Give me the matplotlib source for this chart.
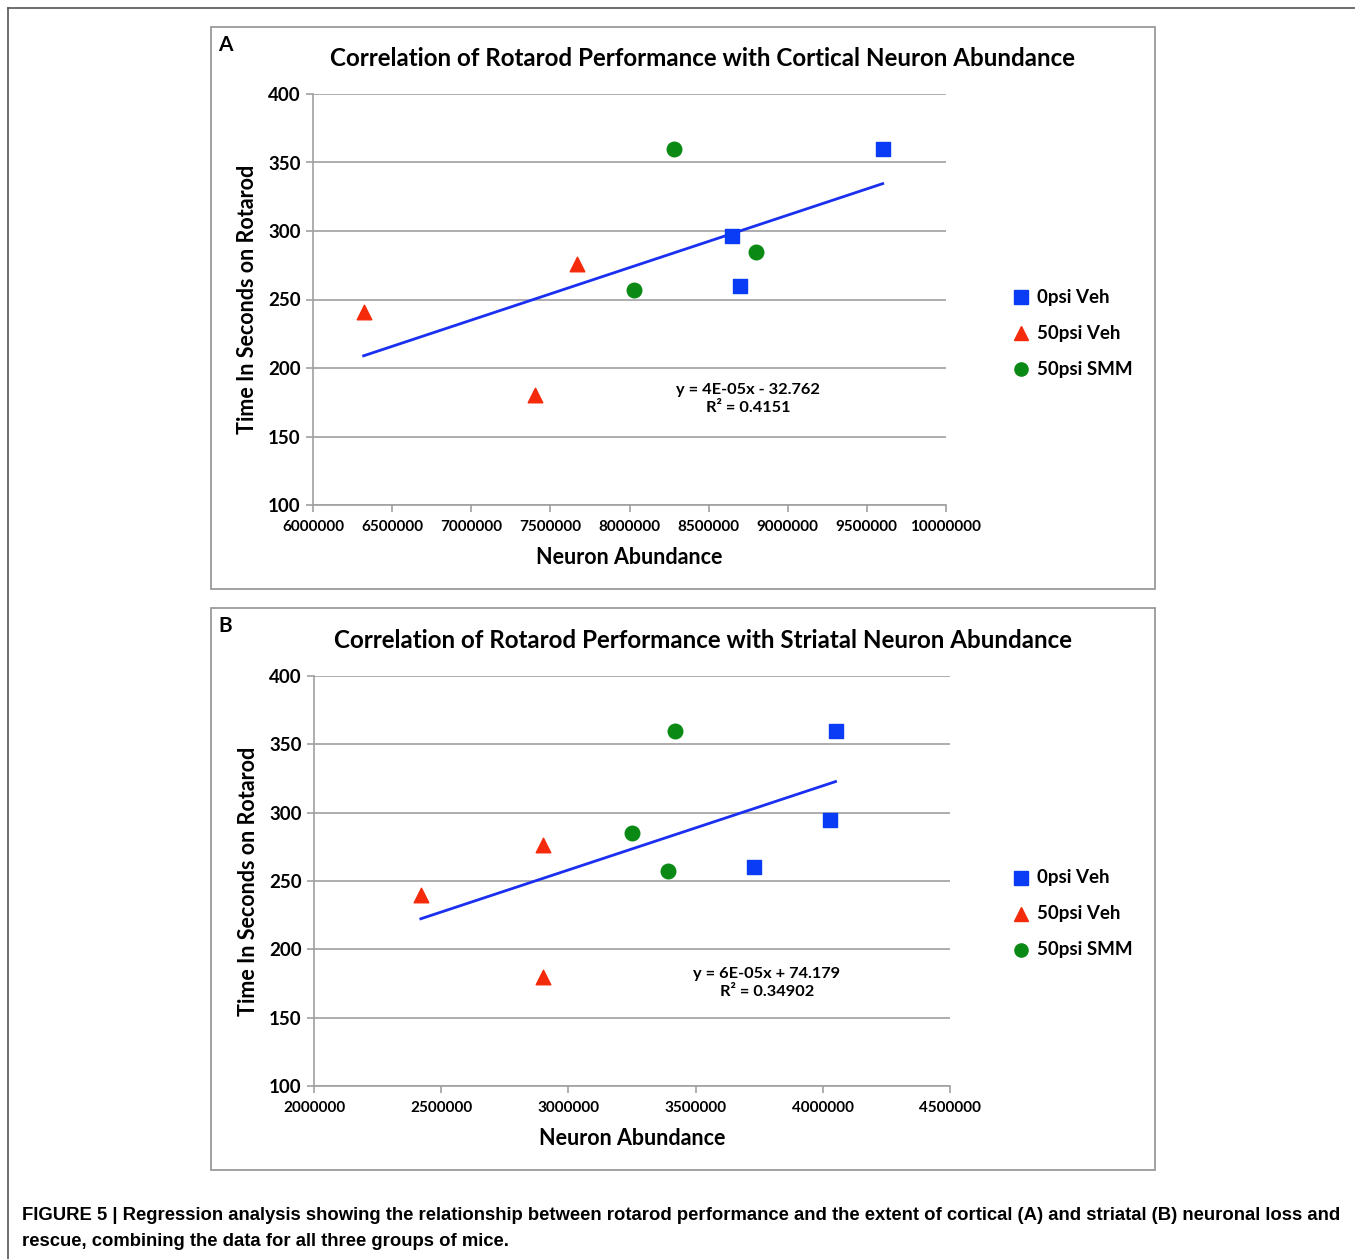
import numpy as np
import matplotlib
matplotlib.use("Agg")
import matplotlib.pyplot as plt
from matplotlib.patches import Rectangle
from matplotlib.lines import Line2D

# ---- data ----
groups = ["0psi Veh", "50psi Veh", "50psi SMM"]

# Panel A: cortical neuron abundance
a_veh0_x = [9600000, 8650000, 8700000]
a_veh0_y = [360, 296, 260]
a_veh50_x = [6320000, 7400000, 7670000]
a_veh50_y = [241, 180, 276]
a_smm_x = [8280000, 8800000, 8030000]
a_smm_y = [360, 285, 257]
a_eq = "y = 4E-05x - 32.762\nR² = 0.4151"
a_title = "Correlation of Rotarod Performance with Cortical Neuron Abundance"
a_xticks = [6000000, 6500000, 7000000, 7500000, 8000000, 8500000, 9000000, 9500000, 10000000]

# Panel B: striatal neuron abundance
b_veh0_x = [4050000, 4030000, 3730000]
b_veh0_y = [360, 295, 260]
b_veh50_x = [2420000, 2900000, 2900000]
b_veh50_y = [240, 276, 180]
b_smm_x = [3420000, 3250000, 3390000]
b_smm_y = [360, 285, 257]
b_eq = "y = 6E-05x + 74.179\nR² = 0.34902"
b_title = "Correlation of Rotarod Performance with Striatal Neuron Abundance"
b_xticks = [2000000, 2500000, 3000000, 3500000, 4000000, 4500000]

yticks = [100, 150, 200, 250, 300, 350, 400]

caption_l1 = ("FIGURE 5 | Regression analysis showing the relationship between rotarod performance "
              "and the extent of cortical (A) and striatal (B) neuronal loss and")
caption_l2 = "rescue, combining the data for all three groups of mice."

FONT = ["Lato", "DejaVu Sans"]
CAPFONT = ["Liberation Sans", "DejaVu Sans"]
plt.rcParams["font.family"] = FONT

fig = plt.figure(figsize=(13.55, 12.59), dpi=100)

# outer frame lines (top and left)
fig.add_artist(Line2D([8/1355, 1.0], [1-8/1259, 1-8/1259], color="#555555", lw=1.2))
fig.add_artist(Line2D([8/1355, 8/1355], [0, 1-8/1259], color="#555555", lw=1.2))


def panel(box, axpos, letter, title, titley, data, xticks, eq, eqpos, legy):
    fig.add_artist(Rectangle((box[0], box[1]), box[2], box[3], transform=fig.transFigure,
                             fill=False, edgecolor="#9a9a9a", lw=1.3))
    fig.text(box[0] + 0.0055, box[1] + box[3] - 0.0145, letter, fontsize=15, fontweight="bold",
             va="center", ha="left")
    fig.text(703/1355, titley, title, fontsize=17.4, fontweight="bold", ha="center", va="center")
    ax = fig.add_axes(axpos)
    x0, y0, x1, y1, x2, y2 = data
    ax.scatter(x0, y0, marker="s", s=110, color="#0a3cf5", zorder=3)
    ax.scatter(x1, y1, marker="^", s=110, color="#f52a0a", zorder=3)
    ax.scatter(x2, y2, marker="o", s=110, color="#0a8a14", zorder=3)
    allx = np.array(x0 + x1 + x2, dtype=float)
    ally = np.array(y0 + y1 + y2, dtype=float)
    m, c = np.polyfit(allx, ally, 1)
    lx = np.array([allx.min(), allx.max()])
    ax.plot(lx, m * lx + c, color="#1a2ff0", lw=2, zorder=2)
    ax.set_xlim(xticks[0], xticks[-1])
    ax.set_ylim(100, 400)
    ax.set_xticks(xticks)
    ax.set_xticklabels([str(t) for t in xticks], fontsize=11, fontweight="bold")
    ax.set_yticks(yticks)
    ax.set_yticklabels([str(t) for t in yticks], fontsize=13.5, fontweight="bold")
    ax.grid(axis="y", color="#a0a0a0", lw=1.2)
    ax.set_axisbelow(True)
    for s in ["top", "right"]:
        ax.spines[s].set_visible(False)
    for s in ["left", "bottom"]:
        ax.spines[s].set_color("#a0a0a0")
        ax.spines[s].set_linewidth(1.2)
    ax.tick_params(axis="both", color="#a0a0a0", length=5, width=1.2, pad=6)
    ax.tick_params(axis="y", pad=4)
    ax.set_xlabel("Neuron Abundance", fontsize=15.5, fontweight="bold", labelpad=9)
    ax.set_ylabel("Time In Seconds on Rotarod", fontsize=15.5, fontweight="bold", labelpad=7)
    ax.text(eqpos[0], eqpos[1], eq, transform=fig.transFigure, fontsize=11.8,
            fontweight="bold", ha="center", va="center", linespacing=1.35)
    mk = [("s", "#0a3cf5"), ("^", "#f52a0a"), ("o", "#0a8a14")]
    for i, (g, (mm, col)) in enumerate(zip(groups, mk)):
        yy = legy - i * 36 / 1259
        fig.add_artist(Line2D([1021/1355], [yy], marker=mm, color=col, markersize=9.5,
                              linestyle="none", transform=fig.transFigure))
        fig.text(1037/1355, yy, g, fontsize=13.5, fontweight="bold", va="center", ha="left")
    return ax


panel((211/1355, 1-589/1259, 944/1355, 562/1259),
      [313/1355, 1-505/1259, 633/1355, 411/1259], "A", a_title, 1-59/1259,
      [a_veh0_x, a_veh0_y, a_veh50_x, a_veh50_y, a_smm_x, a_smm_y], a_xticks, a_eq,
      (748/1355, 1-399/1259), 1-297/1259)
panel((211/1355, 1-1170/1259, 944/1355, 562/1259),
      [314/1355, 1-1086/1259, 636/1355, 410/1259], "B", b_title, 1-640/1259,
      [b_veh0_x, b_veh0_y, b_veh50_x, b_veh50_y, b_smm_x, b_smm_y], b_xticks, b_eq,
      (767/1355, 1-983/1259), 1-878/1259)

fig.text(22/1355, 1-1215/1259, caption_l1, fontsize=13.3, fontweight="bold",
         family=CAPFONT, va="center", ha="left")
fig.text(22/1355, 1-1241/1259, caption_l2, fontsize=13.3, fontweight="bold",
         family=CAPFONT, va="center", ha="left")

fig.savefig("out.png", dpi=100)
